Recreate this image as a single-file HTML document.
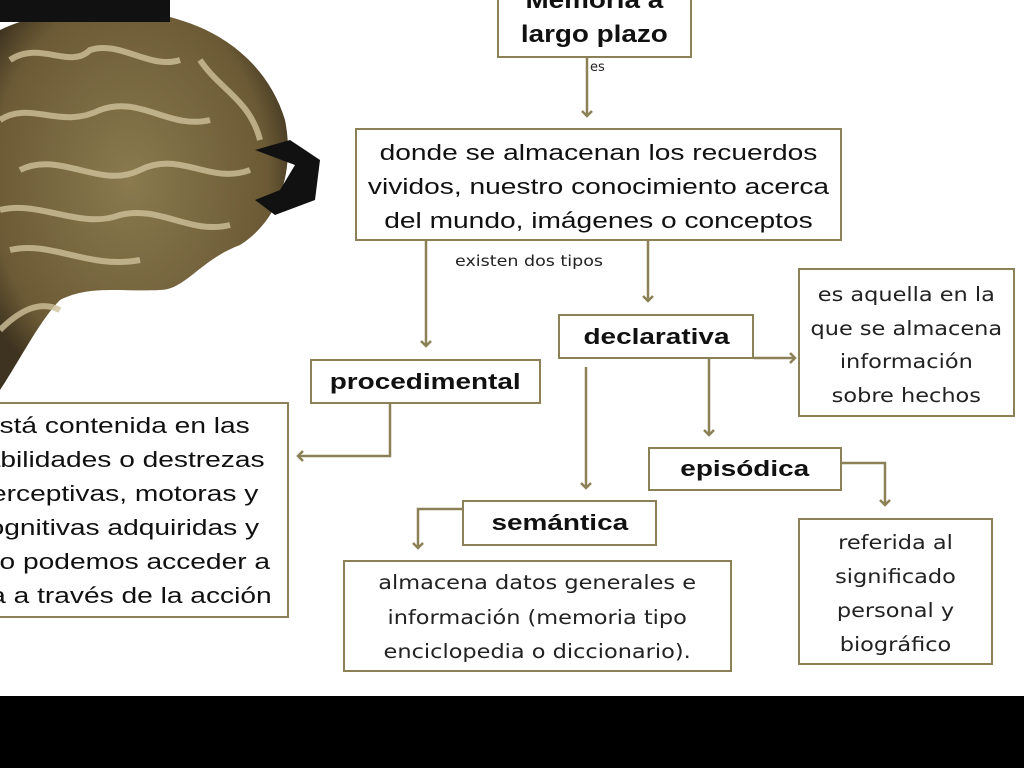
<!DOCTYPE html>
<html><head><meta charset="utf-8"><style>
body{margin:0;width:1024px;height:768px;background:#fff;position:relative;overflow:hidden;font-family:"Liberation Sans",sans-serif;color:#111}
.b{position:absolute;border:2px solid #8c8156;box-sizing:border-box;background:#fff;text-align:center}
.t{position:absolute;white-space:nowrap}
.bold{font-weight:bold}
.ds{font-family:"DejaVu Sans","Liberation Sans",sans-serif;color:#222}
.x{display:inline-block;white-space:nowrap}
.r{transform:scaleX(1.25)}
.k{transform:scaleX(1.27)}
.d{transform:scaleX(1.15)}
</style></head><body>
<svg width="1024" height="768" style="position:absolute;left:0;top:0">
<defs><radialGradient id="g" cx="0.45" cy="0.45" r="0.6"><stop offset="0" stop-color="#8a7a4e"/><stop offset="0.8" stop-color="#6b5a35"/><stop offset="1" stop-color="#3e3320"/></radialGradient>
<marker id="a" markerWidth="12" markerHeight="12" refX="6" refY="6" orient="auto" markerUnits="userSpaceOnUse"><path d="M1,1 L6,6 L1,11" fill="none" stroke="#8c8156" stroke-width="2.5"/></marker></defs>
<path d="M0,30 C40,10 120,0 180,20 C230,35 270,70 285,120 C295,170 280,220 240,245 C200,260 185,290 160,290 C120,292 90,285 60,300 C40,320 20,360 0,390 Z" fill="url(#g)"/>
<g fill="none" stroke="#cfc19a" stroke-width="6" opacity="0.8">
<path d="M10,60 C40,40 70,70 90,50 C120,40 150,70 180,60"/>
<path d="M0,120 C30,100 60,130 100,110 C140,95 170,130 210,120"/>
<path d="M20,170 C60,150 100,190 140,170 C180,150 210,185 250,170"/>
<path d="M0,210 C40,200 80,230 120,215 C160,205 190,235 230,225"/>
<path d="M10,250 C50,240 90,270 140,260"/>
<path d="M200,60 C220,90 250,100 260,140"/>
<path d="M0,330 C20,310 40,300 60,310"/>
</g>
<g fill="#111"><rect x="0" y="0" width="170" height="22"/><path d="M255,150 L290,140 L320,160 L315,200 L275,215 L255,200 L280,190 L295,165 Z"/></g>
<g stroke="#8c8156" stroke-width="2.5" fill="none">
<path d="M587,58 V116" marker-end="url(#a)"/>
<path d="M426,241 V346" marker-end="url(#a)"/>
<path d="M648,241 V301" marker-end="url(#a)"/>
<path d="M754,358 H795" marker-end="url(#a)"/>
<path d="M390,404 V456 H298" marker-end="url(#a)"/>
<path d="M586,367 V488" marker-end="url(#a)"/>
<path d="M709,359 V435" marker-end="url(#a)"/>
<path d="M842,463 H885 V505" marker-end="url(#a)"/>
<path d="M462,509 H418 V548" marker-end="url(#a)"/>
</g>
</svg>
<div class="b" style="left:497px;top:-10px;width:195px;height:68px"></div>
<div class="t bold" style="left:497px;width:195px;text-align:center;top:-16px;font-size:24px;line-height:34px"><span class="x" style="transform:scaleX(1.16)">Memoria a<br>largo plazo</span></div>
<div class="t ds" style="left:590px;top:60px;font-size:13px">es</div>
<div class="b" style="left:355px;top:128px;width:487px;height:113px;font-size:22.5px;line-height:34px;padding-top:6px"><span class="x r">donde se almacenan los recuerdos<br>vividos, nuestro conocimiento acerca<br>del mundo, imágenes o conceptos</span></div>
<div class="t ds" style="left:455px;top:252px;font-size:15px;transform:scaleX(1.165);transform-origin:left">existen dos tipos</div>
<div class="b bold" style="left:558px;top:314px;width:196px;height:45px;font-size:22px;line-height:41px"><span class="x k">declarativa</span></div>
<div class="b ds" style="left:798px;top:268px;width:217px;height:149px;font-size:19.5px;line-height:33.5px;padding-top:8px"><span class="x d">es aquella en la<br>que se almacena<br>información<br>sobre hechos</span></div>
<div class="b bold" style="left:310px;top:359px;width:231px;height:45px;font-size:22px;line-height:41px"><span class="x k">procedimental</span></div>
<div class="b" style="left:-20px;top:402px;width:309px;height:216px"></div>
<div class="t" style="left:-38px;width:310px;text-align:center;top:409px;font-size:22.5px;line-height:34px"><span class="x r">está contenida en las<br>habilidades o destrezas<br>perceptivas, motoras y<br>cognitivas adquiridas y<br>solo podemos acceder a<br>ella a través de la acción</span></div>
<div class="b bold" style="left:648px;top:447px;width:194px;height:44px;font-size:22px;line-height:40px"><span class="x k">episódica</span></div>
<div class="b ds" style="left:798px;top:518px;width:195px;height:147px;font-size:19.5px;line-height:34px;padding-top:6px"><span class="x d">referida al<br>significado<br>personal y<br>biográfico</span></div>
<div class="b bold" style="left:462px;top:500px;width:195px;height:46px;font-size:22px;line-height:42px"><span class="x k">semántica</span></div>
<div class="b ds" style="left:343px;top:560px;width:389px;height:112px;font-size:19.5px;line-height:34.5px;padding-top:4px"><span class="x d">almacena datos generales e<br>información (memoria tipo<br>enciclopedia o diccionario).</span></div>
<div style="position:absolute;left:0;top:696px;width:1024px;height:72px;background:#000"></div>
</body></html>
